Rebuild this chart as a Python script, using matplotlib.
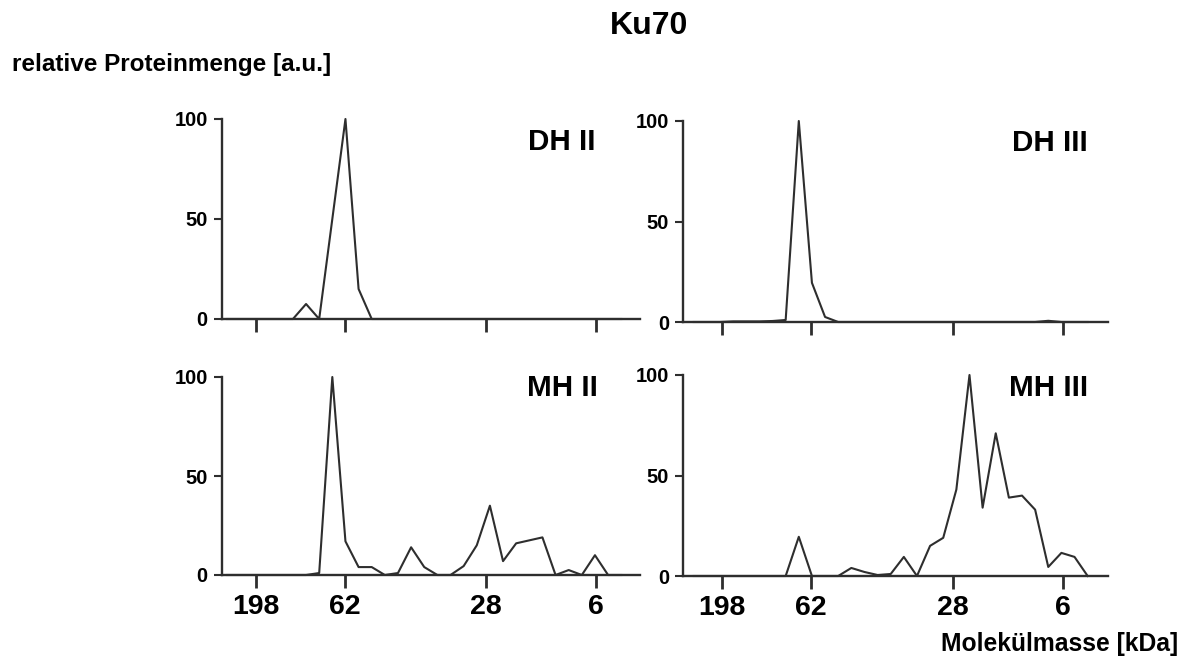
import matplotlib
matplotlib.use("Agg")
import matplotlib.pyplot as plt

plt.rcParams['font.family'] = ['Liberation Sans', 'DejaVu Sans']
plt.rcParams['font.weight'] = 'bold'

# Fraction numbers (x) and relative protein amounts per panel
fractions = list(range(1, 32))

dh2 = [0, 0, 0, 0, 0, 0, 7.5, 0, 50, 100, 15, 0, 0, 0, 0, 0,
       0, 0, 0, 0, 0, 0, 0, 0, 0, 0, 0, 0, 0, 0, 0]
dh3 = [0, 0, 0, 0.3, 0.3, 0.3, 0.5, 1.0, 100, 19.5, 2.5, 0, 0, 0, 0, 0,
       0, 0, 0, 0, 0, 0, 0, 0, 0, 0, 0, 0.6, 0, 0, 0]
mh2 = [0, 0, 0, 0, 0, 0, 0, 1, 100, 17, 4, 4, 0, 1, 14, 4,
       0, 0, 4.5, 15, 35, 7, 16, 17.5, 19, 0, 2.5, 0, 10, 0, 0]
mh3 = [0, 0, 0, 0, 0, 0, 0, 0, 19.5, 0, 0, 0, 4, 2, 0.5, 1,
       9.5, 0, 15, 19, 43, 100, 34, 71, 39, 40, 33, 4.5, 11.5, 9.5, 0]

mass_labels = ['198', '62', '28', '6']
mass_pos = [3.16, 9.95, 20.72, 29.1]
y_ticks = [0, 50, 100]

panel_names = ['DH II', 'DH III', 'MH II', 'MH III']

W, H = 1190, 670
fig = plt.figure(figsize=(W / 100, H / 100), dpi=100)

def rect(x0, x1, ybase, ytop):
    return [x0 / W, 1 - ybase / H, (x1 - x0) / W, (ybase - ytop) / H]

col = '#2e2e2e'
layouts = [
    (rect(221.7, 640, 319, 119), (0.576, 32.43), False, dh2, (596, 142)),
    (rect(683, 1108, 322, 121), (0.18, 32.55), False, dh3, (1088, 143)),
    (rect(221.7, 640, 575, 377), (0.576, 32.43), True, mh2, (598, 388)),
    (rect(683, 1108, 576, 375), (0.18, 32.55), True, mh3, (1088, 388)),
]

for (r, xl, show_x, vals, lab_pos), name in zip(layouts, panel_names):
    ax = fig.add_axes(r)
    ax.plot(fractions, vals, color=col, lw=1.5, clip_on=False, zorder=3)
    ax.set_xlim(*xl)
    ax.set_ylim(0, 100)
    for s in ['top', 'right']:
        ax.spines[s].set_visible(False)
    for s in ['left', 'bottom']:
        ax.spines[s].set_color(col)
        ax.spines[s].set_linewidth(1.7)
    ax.spines['left'].set_bounds(0, 100)
    ax.set_yticks(y_ticks)
    ax.set_yticklabels([str(v) for v in y_ticks], fontsize=14.5, fontweight='bold')
    ax.tick_params(axis='y', length=6, width=1.5, color=col, pad=4)
    ax.set_xticks(mass_pos)
    if show_x:
        ax.set_xticklabels(mass_labels, fontsize=20.5, fontweight='bold')
    else:
        ax.set_xticklabels([])
    ax.tick_params(axis='x', length=9, width=2, color=col, pad=5)
    ax.patch.set_alpha(0)
    fig.text(lab_pos[0] / W, 1 - lab_pos[1] / H, name, ha='right', va='center',
             fontsize=21.3, fontweight='bold')

fig.text(649 / W, 1 - 26 / H, 'Ku70', ha='center', va='center', fontsize=23, fontweight='bold')
fig.text(12 / W, 1 - 64 / H, 'relative Proteinmenge [a.u.]', ha='left', va='center',
         fontsize=17.5, fontweight='bold')
fig.text(1178 / W, 1 - 644 / H, 'Molekülmasse [kDa]', ha='right', va='center',
         fontsize=17.7, fontweight='bold')

fig.savefig('out.png', dpi=100)
